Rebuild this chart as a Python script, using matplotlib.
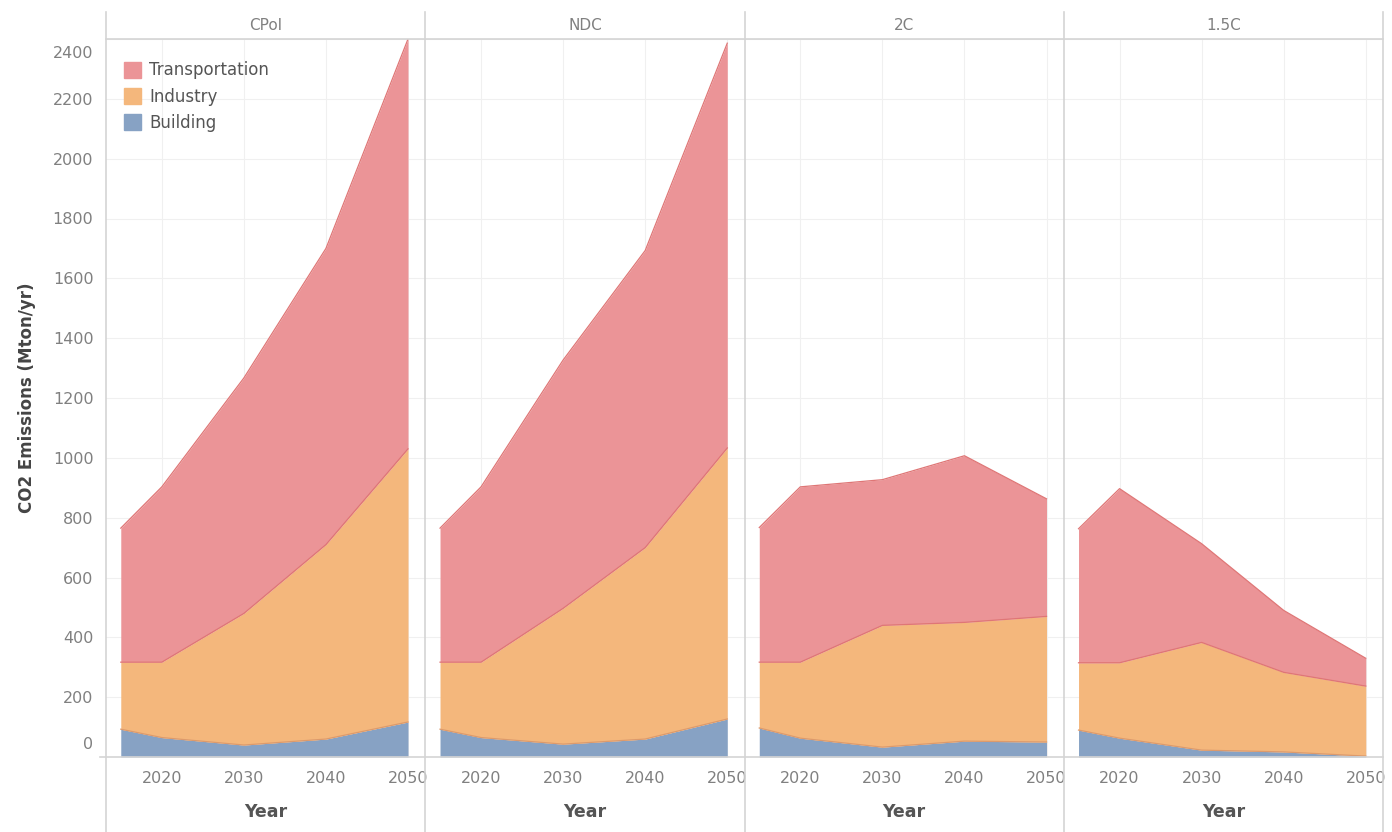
import matplotlib.pyplot as plt
from matplotlib.lines import Line2D
from matplotlib.transforms import ScaledTranslation
import numpy as np

# Data (Mton/yr)
years = [2015, 2020, 2030, 2040, 2050]
scenarios = ["CPol", "NDC", "2C", "1.5C"]

building = {
    "CPol": [93, 65, 40, 60, 117],
    "NDC": [93, 65, 43, 60, 127],
    "2C": [97, 63, 33, 53, 50],
    "1.5C": [90, 63, 23, 17, 3],
}
industry = {
    "CPol": [224, 252, 440, 650, 913],
    "NDC": [224, 252, 454, 640, 906],
    "2C": [220, 254, 407, 397, 420],
    "1.5C": [225, 252, 360, 266, 234],
}
transportation = {
    "CPol": [448, 586, 787, 990, 1370],
    "NDC": [448, 586, 830, 993, 1353],
    "2C": [450, 586, 487, 557, 393],
    "1.5C": [448, 582, 330, 207, 93],
}

x_ticks = [2020, 2030, 2040, 2050]
y_ticks = list(range(0, 2401, 200))

col_trans = "#eb9497"
col_ind = "#f4b77c"
col_bld = "#87a2c4"
edge_trans = "#df7676"
edge_bld = "#dc9a6c"

W, H = 1392, 832
left_px, right_px, top_px, bottom_px = 106, 1383, 39, 757
panel_w = (right_px - left_px) / 4

fig = plt.figure(figsize=(W / 100, H / 100), dpi=100)

axes = []
for i, sc in enumerate(scenarios):
    ax = fig.add_axes([(left_px + i * panel_w) / W, (H - bottom_px) / H,
                       panel_w / W, (bottom_px - top_px) / H])
    axes.append(ax)

    b = np.array(building[sc])
    ind = b + np.array(industry[sc])
    tot = ind + np.array(transportation[sc])

    ax.fill_between(years, 0, b, color=col_bld, lw=0, zorder=2)
    ax.fill_between(years, b, ind, color=col_ind, lw=0, zorder=2)
    ax.fill_between(years, ind, tot, color=col_trans, lw=0, zorder=2)
    ax.plot(years, tot, color=edge_trans, lw=0.9, zorder=3)
    ax.plot(years, ind, color=edge_trans, lw=0.9, zorder=3)
    ax.plot(years, b, color=edge_bld, lw=0.9, zorder=3)

    ax.set_xlim(2013.2, 2052.1)
    ax.set_ylim(0, 2400)
    ax.set_xticks(x_ticks)
    ax.set_xticklabels([str(t) for t in x_ticks], color="#808080", fontsize=11.5)
    ax.set_yticks(y_ticks)
    ax.grid(True, color="#f0f0f0", lw=0.8, zorder=0)
    ax.set_axisbelow(True)
    ax.tick_params(length=0, pad=10)
    for s in ax.spines.values():
        s.set_visible(False)
    if i == 0:
        ax.set_yticklabels([str(t) for t in y_ticks], color="#808080", fontsize=11.5)
        ax.tick_params(axis="y", pad=9)
    else:
        ax.set_yticklabels([])
    ax.set_xlabel("Year", color="#555555", fontsize=12.5, fontweight="bold", labelpad=12)

    fig.text((left_px + (i + 0.5) * panel_w) / W, 1 - 25 / H, sc,
             ha="center", va="center", color="#808080", fontsize=11)

# Tableau keeps the end labels inside the axis band
ylabels = axes[0].get_yticklabels()
ylabels[0].set_transform(ylabels[0].get_transform()
                         + ScaledTranslation(0, 14 / 100, fig.dpi_scale_trans))
ylabels[-1].set_transform(ylabels[-1].get_transform()
                          + ScaledTranslation(0, -13 / 100, fig.dpi_scale_trans))

axes[0].set_ylabel("CO2 Emissions (Mton/yr)", color="#444444", fontsize=12,
                   fontweight="semibold", labelpad=12)

# legend inside the first panel
handles = [plt.Rectangle((0, 0), 1, 1, color=col_trans),
           plt.Rectangle((0, 0), 1, 1, color=col_ind),
           plt.Rectangle((0, 0), 1, 1, color=col_bld)]
leg = axes[0].legend(handles, ["Transportation", "Industry", "Building"],
                     loc="upper left", bbox_to_anchor=(0.02, 0.985), frameon=False,
                     fontsize=12, handlelength=1.0, handleheight=1.1,
                     handletextpad=0.5, labelspacing=0.5, borderaxespad=0.3)
for t in leg.get_texts():
    t.set_color("#555555")

# panel separators and header / axis rules
for i in range(5):
    xf = (left_px + i * panel_w) / W
    fig.add_artist(Line2D([xf, xf], [0, 1 - 12 / H], color="#d4d4d4", lw=1.2))
fig.add_artist(Line2D([left_px / W, right_px / W], [1 - top_px / H] * 2,
                      color="#d4d4d4", lw=1.2))
fig.add_artist(Line2D([100 / W, right_px / W], [1 - bottom_px / H] * 2,
                      color="#d4d4d4", lw=1.2))

fig.savefig("out.png", dpi=100)
